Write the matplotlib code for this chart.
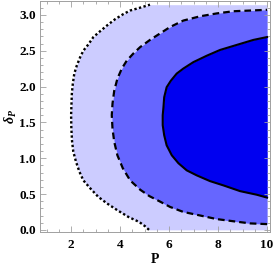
import numpy as np
import matplotlib
matplotlib.use("Agg")
import matplotlib.pyplot as plt
from matplotlib.ticker import MultipleLocator

plt.rcParams["font.family"] = ["Liberation Serif", "DejaVu Serif"]
plt.rcParams["font.weight"] = "bold"
plt.rcParams["mathtext.fontset"] = "custom"
plt.rcParams["mathtext.it"] = "Liberation Serif:italic:bold"
plt.rcParams["mathtext.rm"] = "Liberation Serif:bold"

# contour boundaries (delta_P, P)
dot_delta = [0.0, 0.05, 0.11, 0.18, 0.28, 0.37, 0.46, 0.58, 0.69, 0.81, 0.95, 1.09, 1.23, 1.41, 1.60,
             1.71, 1.90, 2.04, 2.18, 2.29, 2.41, 2.50, 2.59, 2.69, 2.77, 2.85, 2.94, 3.01, 3.06, 3.10, 3.1416]
dot_P = [5.18, 5.02, 4.78, 4.34, 3.86, 3.46, 3.11, 2.78, 2.50, 2.34, 2.20, 2.09, 2.04, 2.01, 2.00,
         2.01, 2.03, 2.07, 2.13, 2.23, 2.37, 2.50, 2.71, 2.91, 3.18, 3.46, 3.80, 4.13, 4.41, 4.82, 5.22]

dash_delta = [0.08, 0.09, 0.12, 0.15, 0.20, 0.25, 0.32, 0.40, 0.47, 0.56, 0.69, 0.86, 1.04, 1.23, 1.41, 1.60,
              1.76, 1.94, 2.11, 2.25, 2.36, 2.46, 2.55, 2.65, 2.74, 2.83, 2.92, 2.98, 3.02, 3.05, 3.06, 3.07]
dash_P = [10.0, 9.31, 8.62, 7.95, 7.27, 6.58, 6.04, 5.60, 5.20, 4.82, 4.41, 4.11, 3.89, 3.76, 3.69, 3.66,
          3.69, 3.76, 3.89, 4.07, 4.27, 4.54, 4.82, 5.22, 5.63, 6.04, 6.58, 7.27, 7.95, 8.62, 9.31, 10.0]

solid_delta = [0.45, 0.49, 0.54, 0.62, 0.68, 0.76, 0.83, 0.93, 1.04, 1.18, 1.32, 1.46, 1.60,
               1.71, 1.85, 1.99, 2.08, 2.18, 2.25, 2.34, 2.43, 2.51, 2.58, 2.65, 2.69]
solid_P = [10.0, 9.58, 8.90, 8.22, 7.67, 7.13, 6.72, 6.38, 6.11, 5.90, 5.80, 5.74, 5.74,
           5.77, 5.80, 5.90, 6.07, 6.31, 6.58, 6.99, 7.54, 8.08, 8.76, 9.44, 10.0]

P_max = 10.0
x_ticks = [2, 4, 6, 8, 10]
y_ticks = [0.0, 0.5, 1.0, 1.5, 2.0, 2.5, 3.0]

light = "#ccccff"
medium = "#6666ff"
dark = "#0000f0"
frame_col = "#a0a0a0"

fig = plt.figure(figsize=(2.75, 2.69), dpi=100)
ax = fig.add_axes([40 / 275, 1 - 232 / 269, 230 / 275, 231.5 / 269])

ax.fill_betweenx(dot_delta, dot_P, P_max, color=light, lw=0)
ax.fill_betweenx(dash_delta, dash_P, P_max, color=medium, lw=0)
ax.fill_betweenx(solid_delta, solid_P, P_max, color=dark, lw=0)

ax.plot(dot_P, dot_delta, color="black", lw=1.7, linestyle=(0, (1, 1)))
ax.plot(dash_P, dash_delta, color="black", lw=1.6, linestyle=(0, (3, 1.8)))
ax.plot(solid_P, solid_delta, color="black", lw=1.5)

ax.set_xlim(0.73, 10.12)
ax.set_ylim(-0.03, 3.2)

ax.set_xticks(x_ticks)
ax.set_yticks(y_ticks)
ax.set_yticklabels(["%.1f" % v for v in y_ticks], fontweight="bold", fontsize=9.5)
ax.set_xticklabels([str(v) for v in x_ticks], fontweight="bold", fontsize=9.5)
ax.xaxis.set_minor_locator(MultipleLocator(0.5))
ax.yaxis.set_minor_locator(MultipleLocator(0.1))
ax.tick_params(which="both", direction="in", top=True, right=True, color=frame_col, width=0.6)
ax.tick_params(which="major", length=4)
ax.tick_params(which="minor", length=2)
ax.tick_params(axis="x", pad=5)
ax.tick_params(axis="y", pad=3)

for sp in ax.spines.values():
    sp.set_color(frame_col)
    sp.set_linewidth(0.7)

ax.set_xlabel("P", fontweight="bold", fontsize=10, labelpad=1.5)
ax.set_ylabel(r"$\delta_P$", fontsize=10, labelpad=0)

fig.savefig("out.png", dpi=100)
